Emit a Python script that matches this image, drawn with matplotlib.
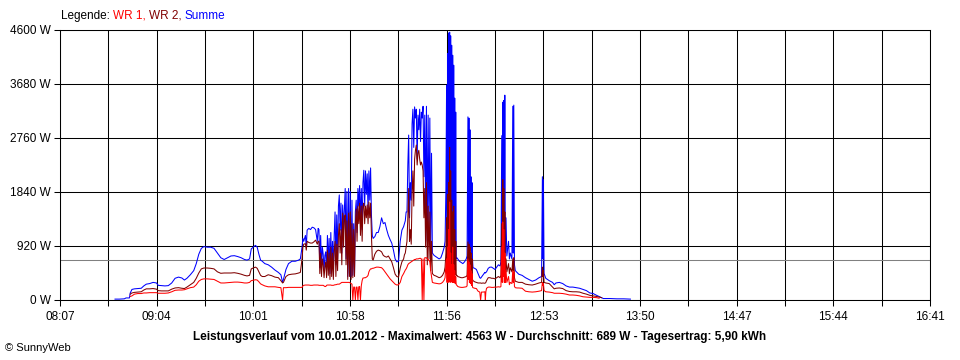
import numpy as np
import matplotlib
matplotlib.use("Agg")
import matplotlib.pyplot as plt

N = np.nan

# time in minutes since midnight, and power values in W
minutes = [
    519.5, 522, 525, 526, 528,
    528.5, 529.5, 531, 533, 535, 536.5, 538, 540, 542, 544,
    545, 547, 549, 551, 553, 555, 557, 559, 560.5, 562,
    564, 566, 567.5, 569, 570.5, 572, 574, 576, 578, 580,
    582, 584, 586, 588, 590, 592, 594, 596, 597.5, 599,
    600, 601.5, 602.5, 603.5, 604.5, 605.5, 606.5, 608, 610, 612,
    614, 616, 617.5, 618.5, 619, 620.5, 622, 624, 626, 628,
    629, 630, 630.5, 631, 632, 632.5, 633, 634, 635, 636,
    637, 638, 639, 639.5, 640, 640.5, 641, 641.5, 642, 642.5,
    643, 643.5, 644, 644.5, 645, 645.5, 646, 646.5, 647, 647.5,
    648, 648.5, 649, 649.5, 650, 650.5, 651, 651.5, 652, 652.5,
    653, 653.5, 654, 654.5, 655, 655.5, 656, 656.5, 657, 657.5,
    658, 658.5, 659, 659.5, 660, 660.5, 661, 661.5, 662, 662.5,
    663, 663.5, 664, 664.5, 665, 665.5, 666, 666.5, 667, 667.5,
    668, 668.5, 669, 669.5, 670, 670.5, 671, 671.5, 672, 673,
    674, 675, 676, 677, 678, 679, 680, 681, 682, 683,
    684, 685, 686, 687, 688, 689, 690, 690.5, 691, 691.5,
    692, 692.5, 693, 693.5, 694, 694.5, 695, 695.5, 696, 696.5,
    697, 697.5, 698, 698.5, 699, 699.5, 700, 700.5, 701, 701.5,
    702, 702.5, 703, 703.5, 704, 704.5, 705, 705.5, 706, 706.5,
    707, 708, 709, 710, 711, 712, 713, 714, 714.5, 715,
    715.4, 715.7, 716.0, 716.3, 716.6, 716.9, 717.2, 717.5, 717.8, 718.1,
    718.4, 718.7, 719.0, 719.3, 719.6, 719.9, 720.2, 720.5, 720.8, 721.1,
    721.5, 722, 723, 724, 725, 726, 727, 727.5, 728, 728.3,
    728.6, 728.9, 729.2, 729.5, 729.8, 730.1, 730.4, 730.7, 731, 732,
    733, 734, 735, 735.5, 736, 737, 738, 738.3, 738.6, 739,
    740, 741, 742, 743, 744, 745, 746, 747, 747.5, 748,
    748.3, 748.6, 748.9, 749.2, 749.5, 749.8, 750.1, 750.5, 751, 752,
    752.5, 753, 754, 754.5, 754.8, 755.1, 755.5, 756, 757, 758,
    760, 762, 764, 766, 768, 770, 771.5, 772, 772.3, 772.6,
    773, 774, 776, 778, 779, 780, 782, 784, 786, 788,
    790, 792, 794, 796, 798, 800, 802, 804, 805.5, 807,
    808, 812, 816, 820, 824,
]

summe = [
    15, 15, 20, 35, 35,
    120, 180, 190, 195, 200, 240, 270, 280, 300, 290,
    250, 245, 240, 245, 290, 370, 390, 375, 340, 370,
    430, 500, 620, 780, 880, 910, 900, 900, 880, 800,
    720, 690, 720, 750, 755, 740, 720, 690, 680, 700,
    870, 910, 930, 900, 780, 680, 660, 620, 600, 560,
    510, 470, 430, 300, 350, 520, 620, 660, 660, 680,
    700, 900, 1050, 1000, 1100, 900, 1190, 1220, 1200, 1240,
    1230, 1200, 1000, 1220, 1200, 550, 1100, 560, 900, 780,
    500, 760, 820, 520, 1100, 600, 1050, 450, 1150, 560,
    1000, 500, 1100, 1500, 600, 1450, 700, 1600, 1790, 1190,
    1650, 800, 1620, 1190, 1550, 1900, 700, 1850, 400, 1900,
    450, 1850, 400, 1700, 420, 1300, 450, 1500, 1700, 1150,
    1900, 1600, 1950, 1300, 1900, 1200, 2000, 2210, 1600, 2200,
    1800, 2150, 1500, 2200, 1700, 2250, 1450, 1100, 1050, 1080,
    1150, 1150, 1250, 1400, 1300, 1320, 1200, 1100, 1030, 970,
    850, 700, 650, 660, 1000, 1190, 1250, 1300, 1350, 1500,
    1500, 2300, 2810, 1400, 2000, 1700, 3000, 3250, 2600, 3290,
    3100, 3250, 2400, 3150, 2900, 3250, 2700, 3200, 3100, 3300,
    2100, 3150, 1500, 3300, 1000, 3150, 1200, 3100, 900, 2500,
    800, 760, 740, 720, 700, 720, 800, 900, 1000, 1900,
    3660, 800, 4200, 700, 4550, 900, 4563, 700, 4500, 800,
    4340, 700, 4170, 750, 4000, 800, 3440, 700, 3200, 700,
    720, 700, 660, 640, 620, 650, 700, 750, 3120, 900,
    3100, 900, 2900, 850, 2100, 800, 2000, 700, 550, 540,
    520, 450, 380, 370, 390, 430, 470, 460, 470, 480,
    540, 560, 560, 540, 520, 560, 600, 580, 650, 2800,
    800, 3370, 900, 3400, 900, 3490, 800, 1400, 750, 1000,
    700, 800, 700, 3300, 800, 3320, 600, 500, 470, 440,
    420, 380, 350, 320, 340, 380, 400, 2100, 700, 2050,
    450, 370, 330, 300, 260, 290, 300, 280, 240, 220,
    220, 210, 200, 180, 160, 120, 110, 80, 60, 40,
    25, 25, 20, 20, 15,
]

wr2 = [
    N, N, N, N, N,
    100, 120, 130, 135, 140, 170, 190, 190, 195, 185,
    160, 155, 155, 155, 185, 205, 210, 200, 195, 220,
    260, 300, 370, 460, 530, 545, 545, 540, 530, 480,
    455, 460, 460, 460, 465, 455, 440, 420, 410, 420,
    530, 550, 560, 540, 480, 420, 400, 400, 430, 415,
    390, 380, 330, 290, 300, 400, 430, 440, 445, 460,
    470, 700, 900, 950, 960, 850, 1000, 980, 970, 970,
    990, 1020, 950, 1000, 1000, 450, 800, 400, 700, 600,
    380, 560, 650, 380, 850, 420, 800, 350, 900, 400,
    800, 350, 850, 1000, 400, 950, 500, 1100, 1300, 800,
    1200, 600, 1480, 900, 1400, 1450, 600, 1350, 350, 1480,
    400, 1500, 350, 1300, 380, 1200, 400, 1300, 1550, 1000,
    1600, 1300, 1650, 1100, 1600, 1000, 1600, 1650, 1300, 1600,
    1400, 1620, 1300, 1670, 1400, 1650, 1100, 700, 680, 780,
    830, 850, 840, 820, 760, 740, 730, 750, 700, 650,
    550, 440, 400, 390, 545, 650, 700, 770, 800, 900,
    1000, 1400, 1900, 1000, 1200, 950, 1800, 2200, 1600, 2400,
    2550, 2640, 2300, 2500, 2550, 2400, 2300, 2350, 2300, 2200,
    1400, 1900, 900, 2000, 600, 1600, 700, 1500, 500, 1000,
    450, 420, 410, 395, 380, 390, 420, 480, 560, 800,
    1400, 450, 1800, 450, 2000, 500, 2600, 450, 2200, 500,
    1700, 450, 1500, 450, 1600, 480, 1200, 430, 1000, 420,
    420, 400, 390, 380, 380, 390, 400, 420, 990, 600,
    950, 500, 900, 450, 800, 400, 700, 350, 330, 310,
    300, 290, 290, 290, 285, 290, 285, 290, 300, 330,
    380, 380, 370, 370, 360, 380, 400, 380, 420, 1300,
    500, 2050, 600, 1900, 500, 1500, 500, 700, 480, 620,
    450, 550, 480, 700, 500, 720, 380, 320, 310, 300,
    300, 270, 260, 255, 270, 290, 300, 560, 400, 500,
    300, 290, 280, 220, 190, 200, 205, 195, 160, 145,
    140, 140, 135, 115, 100, 80, 70, 60, 50, 40,
    N, N, N, N, N,
]

wr1 = [
    N, N, N, N, N,
    60, 70, 100, 110, 110, 120, 120, 125, 125, 125,
    115, 115, 115, 120, 140, 165, 170, 170, 175, 190,
    210, 220, 260, 320, 350, 360, 360, 355, 350, 320,
    290, 290, 295, 300, 305, 305, 300, 290, 290, 300,
    330, 340, 345, 340, 310, 275, 260, 240, 225, 225,
    225, 215, 210, 0, 210, 210, 215, 215, 215, 215,
    215, 215, 240, 250, 255, 255, 255, 255, 250, 250,
    255, 255, 255, 255, 250, 250, 250, 250, 250, 250,
    240, 230, 230, 250, 255, 255, 255, 255, 255, 250,
    250, 250, 255, 260, 260, 265, 270, 270, 270, 280,
    290, 300, 300, 300, 300, 300, 300, 300, 300, 300,
    300, 290, 280, 270, 0, 220, 220, 0, 220, 220,
    0, 225, 230, 0, 240, 330, 375, 375, 380, 380,
    390, 400, 420, 480, 510, 530, 530, 540, 540, 550,
    560, 560, 555, 550, 520, 480, 440, 400, 360, 330,
    300, 270, 255, 260, 300, 400, 450, 480, 510, 530,
    560, 600, 620, 630, 640, 650, 660, 670, 680, 690,
    690, 700, 700, 700, 705, 710, 710, 700, 0, 700,
    0, 720, 720, 720, 700, 690, 680, 650, 500, 400,
    300, 290, 285, 280, 275, 280, 300, 340, 380, 600,
    700, 300, 900, 300, 1200, 320, 1670, 300, 800, 320,
    600, 300, 900, 300, 600, 300, 500, 280, 400, 260,
    250, 230, 220, 215, 215, 220, 225, 240, 700, 350,
    650, 300, 600, 280, 500, 250, 450, 220, 210, 200,
    195, 150, 135, 0, 135, 135, 140, 0, 140, 200,
    220, 220, 215, 215, 220, 220, 225, 220, 230, 900,
    300, 1330, 400, 1200, 300, 800, 300, 500, 300, 400,
    260, 300, 280, 500, 300, 480, 230, 210, 205, 205,
    200, 150, 140, 135, 140, 150, 160, 300, 250, 280,
    160, 140, 135, 125, 115, 115, 115, 110, 100, 85,
    85, 80, 70, 55, 50, 45, 45, 40, 30, N,
    N, N, N, N, N,
]

x_start, x_end = 487, 1001          # 08:07 .. 16:41
x_labels = ["08:07", "09:04", "10:01", "10:58", "11:56",
            "12:53", "13:50", "14:47", "15:44", "16:41"]
y_values = [0, 920, 1840, 2760, 3680, 4600]
y_labels = ["0 W", "920 W", "1840 W", "2760 W", "3680 W", "4600 W"]
average = 689

title = ("Leistungsverlauf vom 10.01.2012 - Maximalwert: 4563 W - "
         "Durchschnitt: 689 W - Tagesertrag: 5,90 kWh")

assert len(minutes) == len(summe) == len(wr1) == len(wr2)

plt.rcParams['font.family'] = ['Liberation Sans', 'DejaVu Sans']

W, H = 960, 360
fig = plt.figure(figsize=(W / 100, H / 100), dpi=100)
fig.patch.set_facecolor('white')
ax = fig.add_axes([60 / W, 60 / H, 870 / W, 270 / H])

ax.set_xlim(x_start, x_end)
ax.set_ylim(0, 4600)

major = np.linspace(x_start, x_end, len(x_labels))
minor = np.linspace(x_start, x_end, 2 * len(x_labels) - 1)
ax.set_xticks(major)
ax.set_xticklabels(x_labels)
ax.set_xticks(minor, minor=True)
ax.set_yticks(y_values)
ax.set_yticklabels(y_labels)

ax.grid(which='both', axis='x', color='black', lw=0.75)
ax.grid(which='major', axis='y', color='black', lw=0.75)
ax.set_axisbelow(True)
for s in ax.spines.values():
    s.set_color('black')
    s.set_linewidth(0.75)

ax.tick_params(axis='x', which='both', direction='out', length=4, width=0.75,
               color='black', labelsize=8.5, pad=4)
ax.tick_params(axis='y', which='major', direction='out', length=4.5, width=0.75,
               color='black', labelsize=8.5, pad=2)

ax.axhline(average, color='#808080', lw=0.75, zorder=1.5)

ax.plot(minutes, summe, color='#0000FF', lw=0.75, zorder=2)
ax.plot(minutes, wr2, color='#800000', lw=0.75, zorder=3)
ax.plot(minutes, wr1, color='#FF0000', lw=0.75, zorder=4)

# multicolour legend line at the top
renderer = fig.canvas.get_renderer()
pieces = [("Legende:", 'black'), ("WR 1,", '#FF0000'),
          ("WR 2,", '#800000'), ("Summe", '#0000FF')]
xp = 61
for txt, col in pieces:
    t = fig.text(xp / W, 1 - 16 / H, txt, color=col, fontsize=8.5,
                 ha='left', va='center')
    bb = t.get_window_extent(renderer)
    xp = bb.x1 + 3

fig.text(480 / W, 1 - 337 / H, title, ha='center', va='center',
         fontsize=8.5, fontweight='bold')
fig.text(5 / W, 1 - 348 / H, "© SunnyWeb", ha='left', va='center', fontsize=8)

fig.savefig('out.png', dpi=100)
